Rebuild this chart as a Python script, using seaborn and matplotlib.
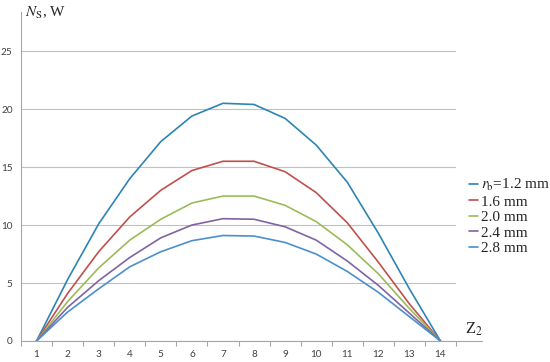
import numpy as np
import pandas as pd
import matplotlib
matplotlib.use("Agg")
import matplotlib.pyplot as plt
import seaborn as sns

z2 = list(range(1, 15))
rb_12 = [0, 5.3, 10.1, 14.0, 17.2, 19.4, 20.5, 20.4, 19.2, 16.9, 13.7, 9.3, 4.5, 0]
rb_16 = [0, 4.1, 7.7, 10.7, 13.0, 14.7, 15.5, 15.5, 14.6, 12.8, 10.2, 6.8, 3.2, 0]
rb_20 = [0, 3.4, 6.3, 8.7, 10.5, 11.9, 12.5, 12.5, 11.7, 10.3, 8.3, 5.8, 2.8, 0]
rb_24 = [0, 2.9, 5.2, 7.2, 8.9, 10.0, 10.55, 10.5, 9.85, 8.7, 6.9, 4.8, 2.4, 0]
rb_28 = [0, 2.5, 4.5, 6.4, 7.7, 8.65, 9.1, 9.05, 8.5, 7.5, 6.0, 4.2, 2.1, 0]
series_labels = [r'$r_{\mathrm{b}}$=1.2 mm', '1.6 mm', '2.0 mm', '2.4 mm', '2.8 mm']
series_values = [rb_12, rb_16, rb_20, rb_24, rb_28]
colors = ['#2C85B5', '#C0504D', '#9BBB59', '#8064A2', '#4A90CC']

rows = []
for lab, vals in zip(series_labels, series_values):
    for x, v in zip(z2, vals):
        rows.append({'Z2': x, 'Ns': v, 'series': lab})
df = pd.DataFrame(rows)

sns.set_style('white')
plt.rcParams['font.family'] = ['Liberation Serif', 'DejaVu Serif']
plt.rcParams['mathtext.fontset'] = 'stix'

fig = plt.figure(figsize=(5.5, 3.62), dpi=100)
ax = fig.add_axes([21/550, 1 - 341/362, (456 - 21)/550, (341 - 11.7)/362])

sns.lineplot(data=df, x='Z2', y='Ns', hue='series', hue_order=series_labels,
             palette=colors, linewidth=1.2, ax=ax, legend=True)

ax.set_xlim(0.5, 14.5)
ax.set_ylim(0, 28.4)
ax.set_yticks([0, 5, 10, 15, 20, 25])
ax.set_xticks(z2)
ax.set_xticks(np.arange(0.5, 15, 1), minor=True)
ax.grid(axis='y', color='#C0C0C0', linewidth=0.8)
ax.set_axisbelow(True)

for s in ['top', 'right', 'bottom']:
    ax.spines[s].set_visible(False)
ax.spines['left'].set_color('#A6A6A6')
ax.spines['left'].set_linewidth(0.8)
ax.plot([0, 1.06], [0, 0], transform=ax.transAxes, color='#A6A6A6',
        linewidth=0.8, clip_on=False, zorder=1)

ax.tick_params(axis='x', which='major', length=0, pad=6.5, labelsize=7.2, labelcolor='#404040')
ax.tick_params(axis='x', which='minor', length=3.5, width=0.8, color='#A6A6A6', direction='out', bottom=True)
ax.tick_params(axis='y', length=0, pad=6, labelsize=7.2, labelcolor='#404040')
for lbl in ax.get_xticklabels() + ax.get_yticklabels():
    lbl.set_family(['Lato', 'DejaVu Sans'])

ax.set_xlabel('')
ax.set_ylabel('')
fig.text(25/550, 1 - 13/362, r'$\mathit{N}_{\mathrm{S}}$, W', fontsize=11, va='center', ha='left')
fig.text(465/550, 1 - 329/362, r'Z$_2$', fontsize=12, va='center', ha='left')

handles, labels = ax.get_legend_handles_labels()
ax.legend(handles, labels, loc='upper left', bbox_to_anchor=(463/550, 1 - 171/362),
          bbox_transform=fig.transFigure, frameon=False, fontsize=11,
          handlelength=0.6, handletextpad=0.15, labelspacing=0.12, borderaxespad=0)

fig.savefig('out.png', dpi=100)
